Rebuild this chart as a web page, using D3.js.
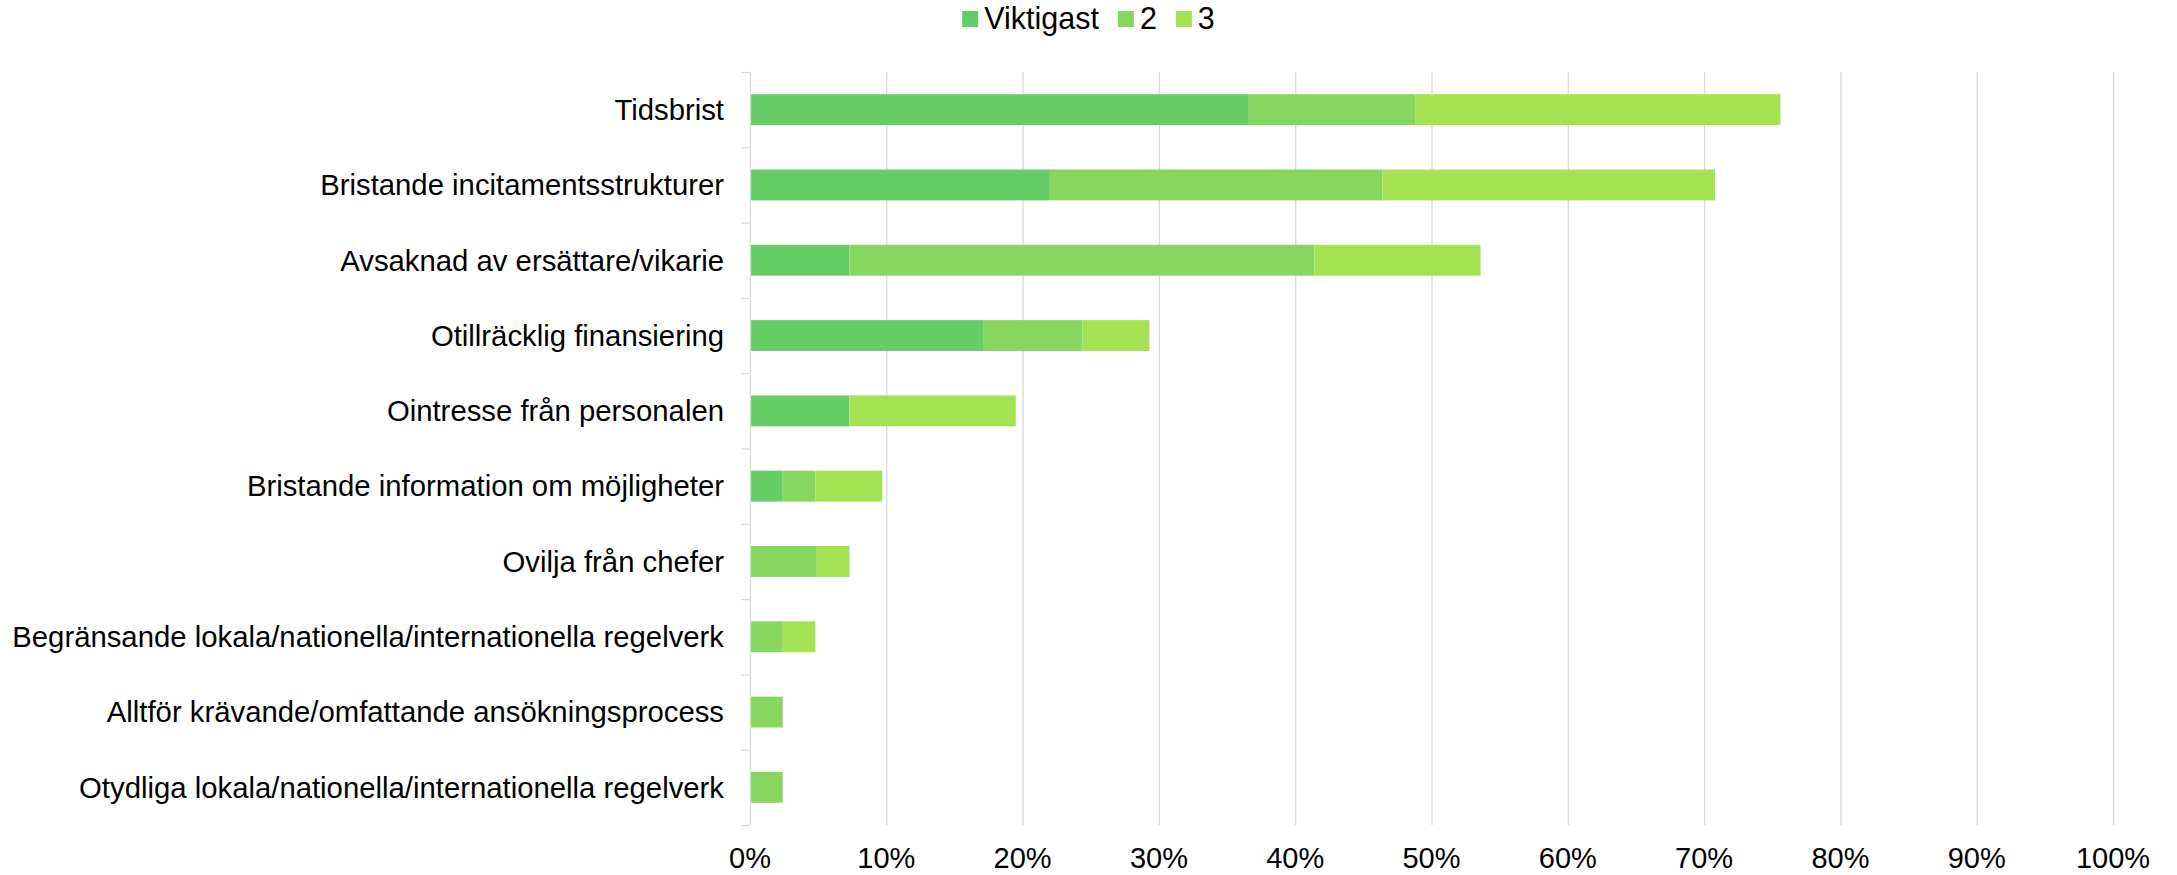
<!DOCTYPE html>
<html>
<head>
<meta charset="utf-8">
<script src="https://cdn.jsdelivr.net/npm/d3@7"></script>
<style>
  body { margin: 0; background: #fff; }
  text { font-family: "Liberation Sans", Arial, sans-serif; fill: #000; }
</style>
</head>
<body>
<script>
// data (percent of respondents)
var categories = [
  "Tidsbrist",
  "Bristande incitamentsstrukturer",
  "Avsaknad av ersättare/vikarie",
  "Otillräcklig finansiering",
  "Ointresse från personalen",
  "Bristande information om möjligheter",
  "Ovilja från chefer",
  "Begränsande lokala/nationella/internationella regelverk",
  "Alltför krävande/omfattande ansökningsprocess",
  "Otydliga lokala/nationella/internationella regelverk"
];
var seriesNames = ["Viktigast", "2", "3"];
var viktigast = [36.6, 22.0, 7.3, 17.1, 7.3, 2.4, 0, 0, 0, 0];
var andra     = [12.2, 24.4, 34.1, 7.3, 0, 2.4, 4.9, 2.4, 2.4, 2.4];
var tredje    = [26.8, 24.4, 12.2, 4.9, 12.2, 4.9, 2.4, 2.4, 0, 0];
var xTicks = [0, 10, 20, 30, 40, 50, 60, 70, 80, 90, 100];
var colors = ["#66cc66", "#86d65f", "#a4e253"];

var W = 2177, H = 875;
var plotLeft = 750, plotRight = 2113, plotTop = 72, plotBottom = 825;

var svg = d3.select("body").append("svg")
  .attr("width", W)
  .attr("height", H);

var x = d3.scaleLinear().domain([0, 100]).range([plotLeft, plotRight]);
var y = d3.scaleBand().domain(categories).range([plotTop, plotBottom])
  .paddingInner(0.59).paddingOuter(0.295);

var rows = categories.map(function(c, i) {
  return { cat: c, Viktigast: viktigast[i], "2": andra[i], "3": tredje[i] };
});
var stacked = d3.stack().keys(seriesNames)(rows);

// gridlines
svg.append("g")
  .selectAll("line")
  .data(xTicks.slice(1))
  .enter()
  .append("line")
  .attr("x1", function(d) { return x(d) + 0.5; })
  .attr("x2", function(d) { return x(d) + 0.5; })
  .attr("y1", plotTop)
  .attr("y2", plotBottom)
  .attr("stroke", "#d9d9d9")
  .attr("stroke-width", 1.3);

// bars
svg.append("g")
  .selectAll("g")
  .data(stacked)
  .enter()
  .append("g")
  .attr("fill", function(d, i) { return colors[i]; })
  .selectAll("rect")
  .data(function(d) { return d.filter(function(p) { return p[1] - p[0] > 0; }); })
  .enter()
  .append("rect")
  .attr("x", function(d) { return x(d[0]); })
  .attr("y", function(d) { return y(d.data.cat); })
  .attr("width", function(d) { return x(d[1]) - x(d[0]); })
  .attr("height", y.bandwidth());

// vertical category axis with ticks between categories
var yAxis = svg.append("g");
yAxis.append("line")
  .attr("x1", plotLeft + 0.5).attr("x2", plotLeft + 0.5)
  .attr("y1", plotTop).attr("y2", plotBottom)
  .attr("stroke", "#d9d9d9").attr("stroke-width", 1.3);
yAxis.selectAll("line.tick")
  .data(d3.range(categories.length + 1))
  .enter()
  .append("line")
  .attr("class", "tick")
  .attr("x1", plotLeft - 9).attr("x2", plotLeft)
  .attr("y1", function(i) { return plotTop + i * y.step() + 0.5; })
  .attr("y2", function(i) { return plotTop + i * y.step() + 0.5; })
  .attr("stroke", "#d9d9d9").attr("stroke-width", 1.3);

yAxis.selectAll("text")
  .data(categories)
  .enter()
  .append("text")
  .attr("x", 724)
  .attr("y", function(d) { return y(d) + y.bandwidth() / 2; })
  .attr("dy", "0.35em")
  .attr("text-anchor", "end")
  .style("font-size", "29.3px")
  .text(function(d) { return d; });

// x tick labels
svg.append("g")
  .selectAll("text")
  .data(xTicks)
  .enter()
  .append("text")
  .attr("x", function(d) { return x(d); })
  .attr("y", 868)
  .attr("text-anchor", "middle")
  .style("font-size", "29px")
  .text(function(d) { return d + "%"; });

// legend, centred on the page
var legend = svg.append("g");
var items = legend.selectAll("g")
  .data(seriesNames)
  .enter()
  .append("g");
items.append("rect")
  .attr("width", 16).attr("height", 16)
  .attr("y", 11)
  .attr("fill", function(d, i) { return colors[i]; });
items.append("text")
  .attr("x", 22)
  .attr("y", 29)
  .style("font-size", "30.5px")
  .text(function(d) { return d; });

var pos = 0;
items.each(function() {
  d3.select(this).attr("transform", "translate(" + pos + ",0)");
  pos += 22 + d3.select(this).select("text").node().getComputedTextLength() + 19;
});
var total = pos - 19;
legend.attr("transform", "translate(" + (W / 2 - total / 2) + ",0)");
</script>
</body>
</html>
